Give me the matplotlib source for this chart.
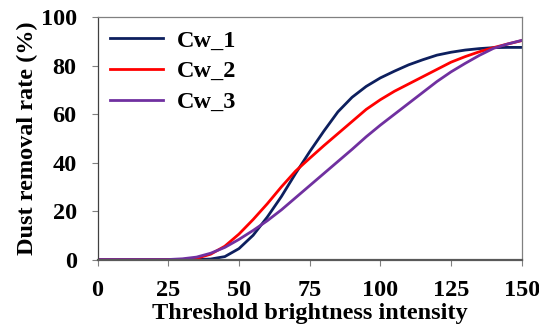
import matplotlib
matplotlib.use('Agg')
import matplotlib.pyplot as plt

# threshold brightness intensity
threshold = [0, 5, 10, 15, 20, 25, 30, 35, 40, 45, 50, 55, 60, 65, 70, 75,
             80, 85, 90, 95, 100, 105, 110, 115, 120, 125, 130, 135, 140, 145, 150]

cw_1 = [0, 0, 0, 0, 0, 0, 0, 0, 0.2, 1.2, 4.5, 10, 17.5, 26, 35.5, 44.5,
        53, 61, 67, 71.5, 75, 77.8, 80.4, 82.5, 84.4, 85.6, 86.5, 87.1, 87.5, 87.6, 87.6]
cw_2 = [0, 0, 0, 0, 0, 0, 0, 0.5, 2.2, 5.5, 10.5, 16.5, 23, 30, 36.5, 41.8,
        47, 52, 57, 62, 66, 69.5, 72.5, 75.5, 78.5, 81.5, 83.8, 85.8, 87.5, 89, 90.4]
cw_3 = [0, 0, 0, 0, 0, 0, 0.3, 1, 2.6, 5, 8.3, 12, 16, 20.5, 25.5, 30.5,
        35.5, 40.5, 45.5, 50.7, 55.5, 60, 64.5, 69, 73.5, 77.5, 81, 84.3, 87.2, 89, 90.5]

plt.rcParams['font.family'] = ['Liberation Serif', 'DejaVu Serif']
plt.rcParams['font.weight'] = 'bold'
fs = 17.5

fig = plt.figure(figsize=(5.39, 3.34), dpi=100)
ax = fig.add_axes([0.181, 0.223, 0.787, 0.725])

ax.plot(threshold, cw_1, color='#0d1f5e', lw=2.0, label='Cw_1')
ax.plot(threshold, cw_2, color='#ff0000', lw=2.0, label='Cw_2')
ax.plot(threshold, cw_3, color='#7030a0', lw=2.0, label='Cw_3')

ax.set_xlim(0, 150)
ax.set_ylim(0, 100)
ax.set_xticks([0, 25, 50, 75, 100, 125, 150])
ax.set_yticks([0, 20, 40, 60, 80, 100])
ax.tick_params(labelsize=fs, length=4, color='#808080', width=0.8)
ax.tick_params(axis='x', pad=11)
ax.tick_params(axis='y', pad=11)
for lab in ax.get_xticklabels() + ax.get_yticklabels():
    lab.set_fontweight('bold')

for s in ['top', 'right']:
    ax.spines[s].set_color('#808080')
    ax.spines[s].set_linewidth(0.9)
ax.spines['left'].set_color('#404040')
ax.spines['left'].set_linewidth(0.9)
ax.spines['bottom'].set_color('#595959')
ax.spines['bottom'].set_linewidth(1.6)

ax.set_xlabel('Threshold brightness intensity', fontsize=fs, fontweight='bold', labelpad=1)
ax.set_ylabel('Dust removal rate (%)', fontsize=fs, fontweight='bold', labelpad=2)

leg = ax.legend(loc='upper left', frameon=False, fontsize=fs, handlelength=2.2,
                handletextpad=0.55, labelspacing=0.36, borderaxespad=0.3, borderpad=0.2)
for t in leg.get_texts():
    t.set_fontweight('bold')

fig.savefig('out.png', dpi=100)
